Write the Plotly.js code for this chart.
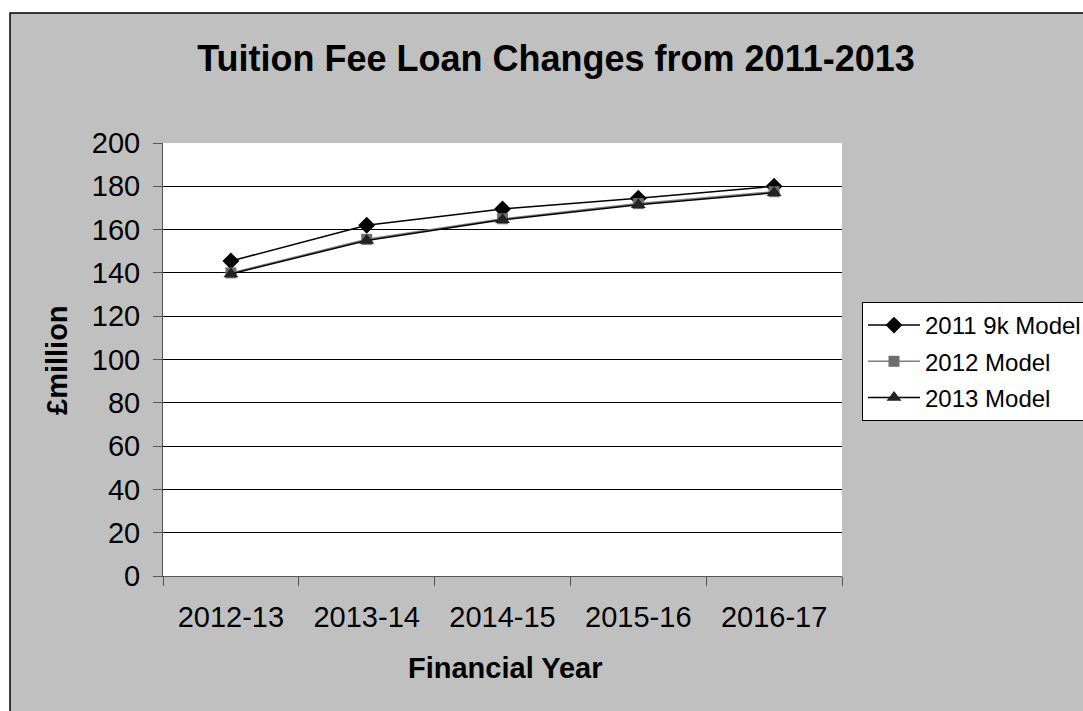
<!DOCTYPE html>
<html>
<head>
<meta charset="utf-8">
<script src="https://cdn.plot.ly/plotly-3.0.1.min.js"></script>
<style>html,body{margin:0;padding:0;background:#fff;}#chart{width:1083px;height:711px;}</style>
</head>
<body>
<div id="chart"></div>
<script>
const years = ["2012-13", "2013-14", "2014-15", "2015-16", "2016-17"];
const model2011 = [145.5, 162, 169.5, 174.5, 180];
const model2012 = [140, 155.5, 165, 172, 177.5];
const model2013 = [139.5, 155, 164.5, 171.5, 177];
const seriesNames = ["2011 9k Model", "2012 Model", "2013 Model"];
const yTicks = [0, 20, 40, 60, 80, 100, 120, 140, 160, 180, 200];

const W = 1083, H = 711;
const L = 163, R = 842, T = 143, B = 576;
const pw = R - L, ph = B - T;
const px = x => (x - L) / pw;
const py = y => (B - y) / ph;
const FONT = "Liberation Sans, Arial, sans-serif";

const traces = [
  {x: years, y: model2011, name: seriesNames[0], legendgroup: "a", type: "scatter", mode: "lines+markers",
   line: {color: "#000000", width: 1.5}, marker: {symbol: "diamond", size: 13, color: "#000000"}},
  {x: years, y: model2012, name: seriesNames[1], legendgroup: "b", type: "scatter", mode: "lines+markers",
   line: {color: "#808080", width: 1.5}, marker: {symbol: "square", size: 11, color: "#6e6e6e"}},
  {x: years, y: model2013, name: seriesNames[2], legendgroup: "c", type: "scatter", mode: "lines+markers",
   line: {color: "#000000", width: 1.5}, marker: {symbol: "triangle-up", size: 13, color: "#222222"}}
];

const layout = {
  width: W, height: H,
  margin: {l: L, r: W - R, t: T, b: H - B, autoexpand: false},
  paper_bgcolor: "#ffffff",
  plot_bgcolor: "rgba(0,0,0,0)",
  font: {family: FONT, color: "#000000"},
  showlegend: true,
  title: {text: "<b>Tuition Fee Loan Changes from 2011-2013</b>", font: {family: FONT, size: 36, color: "#000"},
          xref: "paper", x: px(556), xanchor: "center", yref: "container", y: 1 - 58 / H, yanchor: "middle"},
  xaxis: {type: "category", range: [-0.5, 4.5], showgrid: false, zeroline: false,
          showline: true, linecolor: "#555555", linewidth: 1,
          ticks: "outside", tickson: "boundaries", ticklen: 9, tickcolor: "#555555",
          ticklabelstandoff: 15,
          tickfont: {family: FONT, size: 29, color: "#000"}, fixedrange: true},
  yaxis: {range: [0, 200], tickvals: yTicks, showgrid: true, gridcolor: "#000000", gridwidth: 1,
          zeroline: false, showline: true, linecolor: "#555555", linewidth: 1,
          ticks: "outside", ticklen: 9, tickcolor: "#555555",
          ticklabelstandoff: 7,
          tickfont: {family: FONT, size: 29, color: "#000"}, fixedrange: true},
  legend: {x: px(862), xanchor: "left", y: py(302), yanchor: "top",
           bgcolor: "#ffffff", bordercolor: "#000000", borderwidth: 1,
           traceorder: "grouped", tracegroupgap: 2, itemwidth: 52,
           font: {family: FONT, size: 24, color: "#000"}},
  shapes: [
    {type: "rect", layer: "below", xref: "paper", yref: "paper",
     x0: px(10), x1: px(1100), y0: py(730), y1: py(13),
     fillcolor: "#C0C0C0", line: {color: "#000000", width: 1.5}},
    {type: "rect", layer: "below", xref: "paper", yref: "paper",
     x0: 0, x1: 1, y0: 0, y1: 1, fillcolor: "#ffffff", line: {width: 0}}
  ],
  annotations: [
    {text: "<b>£million</b>", xref: "paper", yref: "paper", x: px(57), y: py(360),
     xanchor: "center", yanchor: "middle", textangle: -90, showarrow: false,
     font: {family: FONT, size: 29, color: "#000"}},
    {text: "<b>Financial Year</b>", xref: "paper", yref: "paper", x: px(505), y: py(668),
     xanchor: "center", yanchor: "middle", showarrow: false,
     font: {family: FONT, size: 29, color: "#000"}}
  ]
};

Plotly.newPlot("chart", traces, layout, {displayModeBar: false, staticPlot: true});
</script>
</body>
</html>
